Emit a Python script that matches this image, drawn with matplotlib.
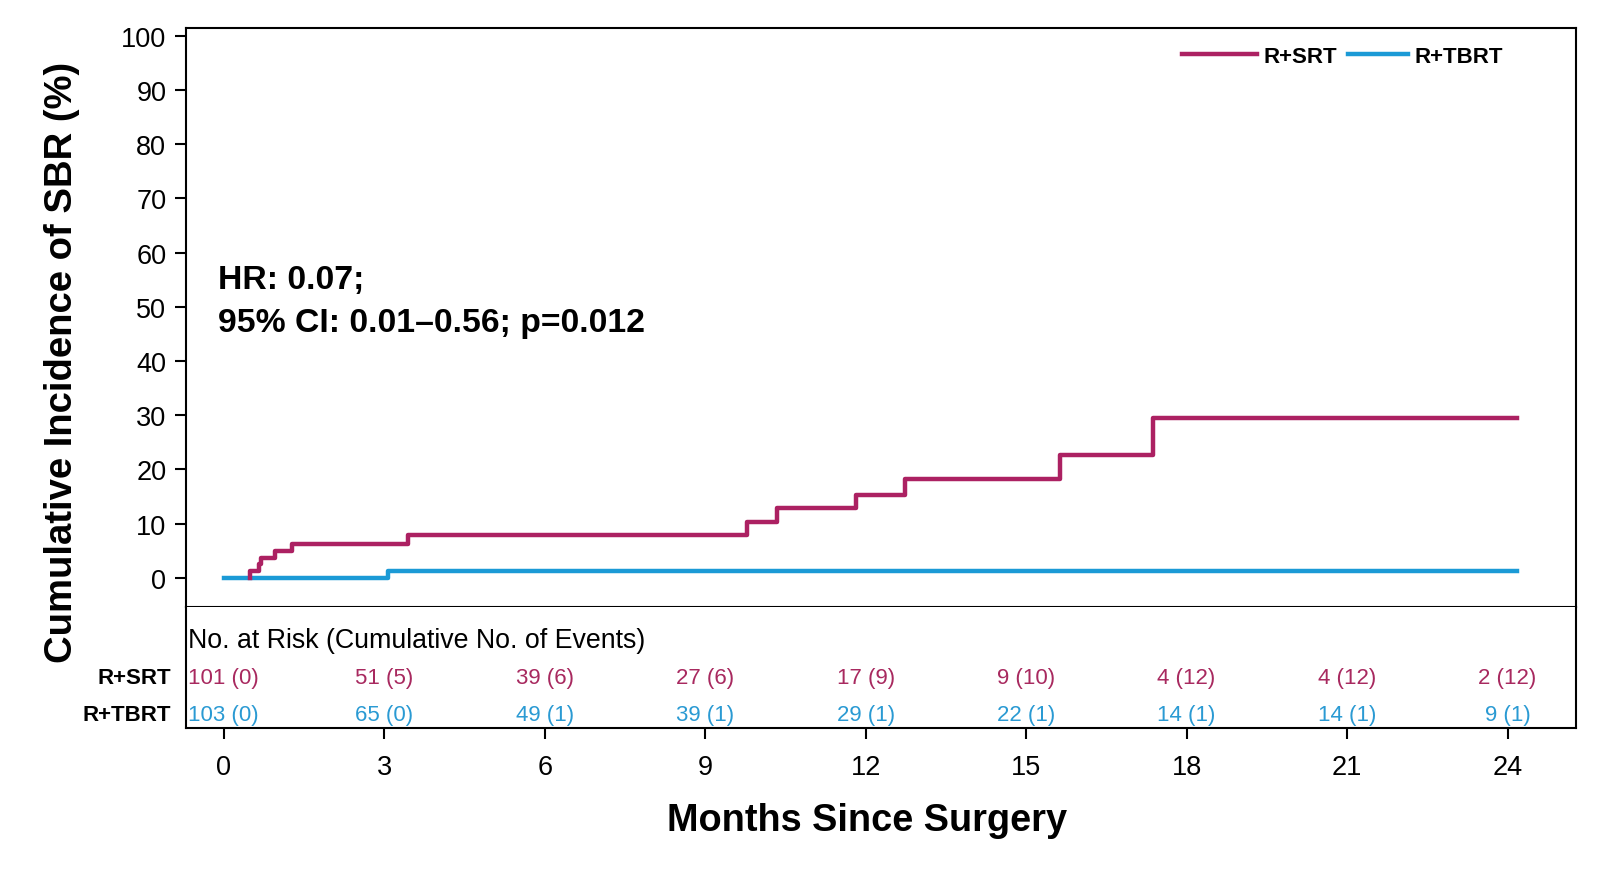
import numpy as np
import matplotlib
matplotlib.use('Agg')
import matplotlib.pyplot as plt

plt.rcParams['font.family'] = ['Liberation Sans', 'DejaVu Sans']

# step curves (months, cumulative incidence %)
srt_t = [0.5, 0.5, 0.65, 0.70, 0.95, 1.27, 3.45, 9.78, 10.34, 11.82, 12.74, 15.64, 17.38, 24.18]
srt_y = [0, 1.3, 2.5, 3.7, 5.0, 6.3, 7.9, 10.2, 12.8, 15.2, 18.3, 22.7, 29.4, 29.4]
tbrt_t = [0, 3.07, 24.18]
tbrt_y = [0, 1.2, 1.2]

# risk table
months = [0, 3, 6, 9, 12, 15, 18, 21, 24]
srt_n = [101, 51, 39, 27, 17, 9, 4, 4, 2]
srt_ev = [0, 5, 6, 6, 9, 10, 12, 12, 12]
tbrt_n = [103, 65, 49, 39, 29, 22, 14, 14, 9]
tbrt_ev = [0, 0, 1, 1, 1, 1, 1, 1, 1]

red = '#AC2162'
blue = '#1B9AD6'
red_txt = '#A8295F'
blue_txt = '#2A9AD3'

fig = plt.figure(figsize=(16, 8.7), dpi=100)
ax = fig.add_axes([0.1161, 0.3011, 0.8686, 0.6660])
axt = fig.add_axes([0.1161, 0.1625, 0.8686, 0.1386], sharex=ax)

l1, = ax.plot(srt_t, srt_y, drawstyle='steps-post', color=red, lw=3.2, label='R+SRT', zorder=3)
l2, = ax.plot(tbrt_t, tbrt_y, drawstyle='steps-post', color=blue, lw=3.2, label='R+TBRT', zorder=2)

ax.set_xlim(-0.71, 25.27)
ax.set_ylim(-5.4, 101.5)
ax.set_yticks(np.arange(0, 101, 10))
ax.tick_params(axis='y', direction='out', length=8, width=1.5, labelsize=19.5, pad=6)
ax.tick_params(axis='x', bottom=False, labelbottom=False)
for s in ax.spines.values():
    s.set_linewidth(1.5)

ax.text(0.0232, 0.566, 'HR: 0.07;', transform=ax.transAxes, fontsize=24.3,
        fontweight='bold', va='center', ha='left')
ax.text(0.0232, 0.491, '95% CI: 0.01\u20130.56; p=0.012', transform=ax.transAxes,
        fontsize=24.3, fontweight='bold', va='center', ha='left')

# legend as two pieces (second handle is shorter)
leg_kw = dict(frameon=False, borderpad=0, handletextpad=0.3, loc='center left',
              prop={'weight': 'bold', 'size': 16})
leg1 = ax.legend([l1], ['R+SRT'], bbox_to_anchor=(0.7086, 0.951), handlelength=3.4, **leg_kw)
ax.add_artist(leg1)
ax.legend([l2], ['R+TBRT'], bbox_to_anchor=(0.8283, 0.951), handlelength=2.7, **leg_kw)

# risk table
axt.set_ylim(0, 1)
axt.set_yticks([])
axt.set_xticks(months)
axt.tick_params(axis='x', direction='out', length=8, width=1.5, labelsize=19.5, pad=11)
for s in axt.spines.values():
    s.set_linewidth(1.5)
axt.spines['top'].set_visible(False)

axt.text(0.0015, 0.728, 'No. at Risk (Cumulative No. of Events)', transform=axt.transAxes,
         fontsize=19.3, va='center', ha='left')
for m, n, e in zip(months, srt_n, srt_ev):
    axt.text(m, 0.415, f'{n} ({e})', color=red_txt, fontsize=16, ha='center', va='center')
for m, n, e in zip(months, tbrt_n, tbrt_ev):
    axt.text(m, 0.112, f'{n} ({e})', color=blue_txt, fontsize=16, ha='center', va='center')
axt.text(-0.0103, 0.415, 'R+SRT', transform=axt.transAxes, fontsize=16,
         fontweight='bold', ha='right', va='center')
axt.text(-0.0103, 0.112, 'R+TBRT', transform=axt.transAxes, fontsize=16,
         fontweight='bold', ha='right', va='center')

fig.text(0.039, 0.583, 'Cumulative Incidence of SBR (%)', rotation=90, fontsize=27.5,
         fontweight='bold', ha='center', va='center')
fig.text(0.542, 0.056, 'Months Since Surgery', fontsize=27.3, fontweight='bold',
         ha='center', va='center')

fig.savefig('out.png', dpi=100)
